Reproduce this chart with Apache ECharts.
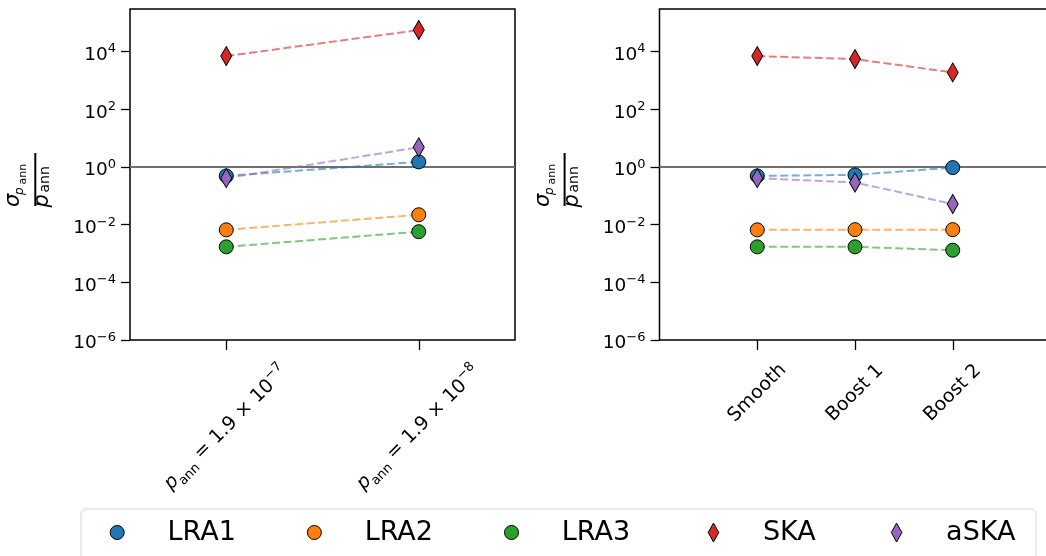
<!DOCTYPE html>
<html>
<head>
<meta charset="utf-8">
<script src="https://cdn.jsdelivr.net/npm/echarts@6/dist/echarts.min.js"></script>
<style>
	html,body{margin:0;padding:0;background:#fff;}
	#main{width:1046px;height:556px;}
</style>
</head>
<body>
<div id="main"></div>
<script type="text/javascript">
	// names / categories
	var names = ['LRA1','LRA2','LRA3','SKA','aSKA'];
	var leftX = [0, 1];
	var leftCoef = ['1.9', '1.9'];
	var leftExp = [-7, -8];
	var rightX = [0, 1, 2];
	var rightCats = ['Smooth', 'Boost 1', 'Boost 2'];
	var yTicks = [1e-6, 1e-4, 1e-2, 1, 1e2, 1e4];
	var refValue = 1;

	// left panel values
	var lra1Left = [0.49, 1.5];
	var lra2Left = [6.6e-3, 2.2e-2];
	var lra3Left = [1.7e-3, 5.7e-3];
	var skaLeft = [7.0e3, 5.6e4];
	var askaLeft = [0.41, 4.8];

	// right panel values
	var lra1Right = [0.49, 0.53, 0.95];
	var lra2Right = [6.6e-3, 6.7e-3, 6.7e-3];
	var lra3Right = [1.7e-3, 1.7e-3, 1.3e-3];
	var skaRight = [7.0e3, 5.5e3, 1.9e3];
	var askaRight = [0.41, 0.29, 0.052];

	var colors = ['#1f77b4','#ff7f0e','#2ca02c','#d62728','#9467bd'];
	var symbols = ['circle','circle','circle','diamond','diamond'];
	var FONT = '"DejaVu Sans", sans-serif';

	function pts(xs, ys){
		return xs.map(function(x, i){ return [x, ys[i]]; });
	}

	function supNum(e){
		return e < 0 ? '\u2212' + (-e) : '' + e;
	}

	var panels = [
		{xs:leftX, vals:[lra1Left, lra2Left, lra3Left, skaLeft, askaLeft], min:-0.5, max:1.5},
		{xs:rightX, vals:[lra1Right, lra2Right, lra3Right, skaRight, askaRight], min:-1, max:3}
	];

	var series = [];
	panels.forEach(function(p, pi){
		// reference line at 1
		series.push({
			type:'line', name:'ref'+pi, xAxisIndex:pi, yAxisIndex:pi,
			data:[[p.min, refValue],[p.max, refValue]],
			symbol:'none', silent:true, z:2,
			lineStyle:{color:'#6f6f6f', width:2}
		});
		names.forEach(function(n, k){
			series.push({
				type:'line', name:n+' line'+pi, xAxisIndex:pi, yAxisIndex:pi,
				data:pts(p.xs, p.vals[k]), symbol:'none', silent:true, z:3,
				lineStyle:{color:colors[k], width:2, type:[8,3.5], opacity:0.6}
			});
		});
		names.forEach(function(n, k){
			series.push({
				type:'scatter', name:n, xAxisIndex:pi, yAxisIndex:pi,
				data:pts(p.xs, p.vals[k]), z:4,
				symbol:symbols[k],
				symbolSize:symbols[k] === 'circle' ? 14 : [11, 19],
				itemStyle:{color:colors[k], borderColor:'#000', borderWidth:1, opacity:1}
			});
		});
	});

	var yAxisBase = function(gi){
		return {
			type:'log', logBase:10, gridIndex:gi, min:1e-6, max:3e5,
			splitLine:{show:false},
			axisLine:{show:false, onZero:false},
			axisTick:{show:true, length:9, customValues:yTicks, lineStyle:{color:'#000', width:1.3}},
			axisLabel:{
				customValues:yTicks, margin:14, color:'#000', fontFamily:FONT,
				padding:[4,0,0,0],
				formatter:function(v){
					var e = Math.round(Math.log(v) / Math.LN10);
					return '{b|10}{s|' + supNum(e) + '}';
				},
				rich:{
					b:{fontSize:18.5, lineHeight:22, verticalAlign:'bottom', fontFamily:FONT, color:'#000'},
					s:{fontSize:13, lineHeight:8, verticalAlign:'top', fontFamily:FONT, color:'#000'}
				}
			}
		};
	};

	var richX = {
		i:{fontSize:19, fontStyle:'italic', lineHeight:27, verticalAlign:'middle', fontFamily:FONT, color:'#000'},
		sub:{fontSize:13, lineHeight:19, verticalAlign:'bottom', fontFamily:FONT, color:'#000'},
		n:{fontSize:19, lineHeight:27, verticalAlign:'middle', fontFamily:FONT, color:'#000'},
		sup:{fontSize:13, lineHeight:11, verticalAlign:'top', fontFamily:FONT, color:'#000'}
	};

	function yLabel(cx, cy){
		return {
			type:'group', x:cx, y:cy, rotation:Math.PI/2,
			children:[
				{type:'text', x:-27.5, y:-21.5, style:{text:'σ', font:'italic 21px '+FONT, fill:'#000', align:'left', verticalAlign:'middle'}},
				{type:'text', x:-15.5, y:-15, style:{text:'p', font:'italic 12px '+FONT, fill:'#000', align:'left', verticalAlign:'middle'}},
				{type:'text', x:-5, y:-12.5, style:{text:'ann', font:'11px '+FONT, fill:'#000', align:'left', verticalAlign:'middle'}},
				{type:'rect', shape:{x:-26.5, y:-1, width:53, height:2}, style:{fill:'#000'}},
				{type:'text', x:-28, y:7.6, style:{text:'p', font:'italic 21px '+FONT, fill:'#000', align:'left', verticalAlign:'middle'}},
				{type:'text', x:-13, y:10, style:{text:'ann', font:'14px '+FONT, fill:'#000', align:'left', verticalAlign:'middle'}}
			]
		};
	}

	var chart = echarts.init(document.getElementById('main'), null, {renderer:'canvas'});
	var option = {
		animation:false,
		backgroundColor:'#fff',
		grid:[
			{left:130, top:9, width:385, height:331, show:true, borderColor:'#000', borderWidth:1.5, backgroundColor:'transparent', containLabel:false, outerBoundsMode:'none'},
			{left:659.5, top:9, width:391, height:331, show:true, borderColor:'#000', borderWidth:1.5, backgroundColor:'transparent', containLabel:false, outerBoundsMode:'none'}
		],
		xAxis:[
			{
				type:'value', gridIndex:0, min:panels[0].min, max:panels[0].max,
				splitLine:{show:false}, axisLine:{show:false, onZero:false},
				axisTick:{show:true, length:10, customValues:leftX, lineStyle:{color:'#000', width:1.3}},
				axisLabel:{
					customValues:leftX, rotate:45, align:'center', verticalAlign:'middle', margin:88,
					formatter:function(v){
						var i = leftX.indexOf(Math.round(v));
						return '{i|p}{sub|ann}{n| = ' + leftCoef[i] + ' × 10}{sup|' + supNum(leftExp[i]) + '}';
					},
					rich:richX
				}
			},
			{
				type:'value', gridIndex:1, min:panels[1].min, max:panels[1].max,
				splitLine:{show:false}, axisLine:{show:false, onZero:false},
				axisTick:{show:true, length:10, customValues:rightX, lineStyle:{color:'#000', width:1.3}},
				axisLabel:{
					customValues:rightX, rotate:45, align:'center', verticalAlign:'middle', margin:53,
					fontSize:19, fontFamily:FONT, color:'#000',
					formatter:function(v){ return rightCats[rightX.indexOf(Math.round(v))]; }
				}
			}
		],
		yAxis:[yAxisBase(0), yAxisBase(1)],
		legend:[
			{
				data:[{name:'LRA1', icon:'circle'},{name:'LRA2', icon:'circle'},{name:'LRA3', icon:'circle'}],
				left:109.7, top:519, padding:0, itemWidth:90.6, itemHeight:14, itemGap:71,
				selectedMode:false,
				itemStyle:{borderColor:'#000', borderWidth:1},
				textStyle:{fontSize:27, fontFamily:FONT, color:'#000'}
			},
			{
				data:[{name:'SKA', icon:'path://M5,0L10,9L5,18L0,9Z'},{name:'aSKA', icon:'path://M5,0L10,9L5,18L0,9Z'}],
				left:707.7, top:519, padding:0, itemWidth:89, itemHeight:19, itemGap:75,
				selectedMode:false,
				itemStyle:{borderColor:'#000', borderWidth:1},
				textStyle:{fontSize:27, fontFamily:FONT, color:'#000'}
			}
		],
		graphic:[
			{type:'rect', z:0, shape:{x:81, y:509, width:955, height:60, r:5}, style:{fill:'rgba(255,255,255,0.8)', stroke:'#d4d4d4', lineWidth:1}},
			yLabel(35.3, 179.5),
			yLabel(564.6, 179.5)
		],
		series:series
	};
	chart.setOption(option);
</script>
</body>
</html>
